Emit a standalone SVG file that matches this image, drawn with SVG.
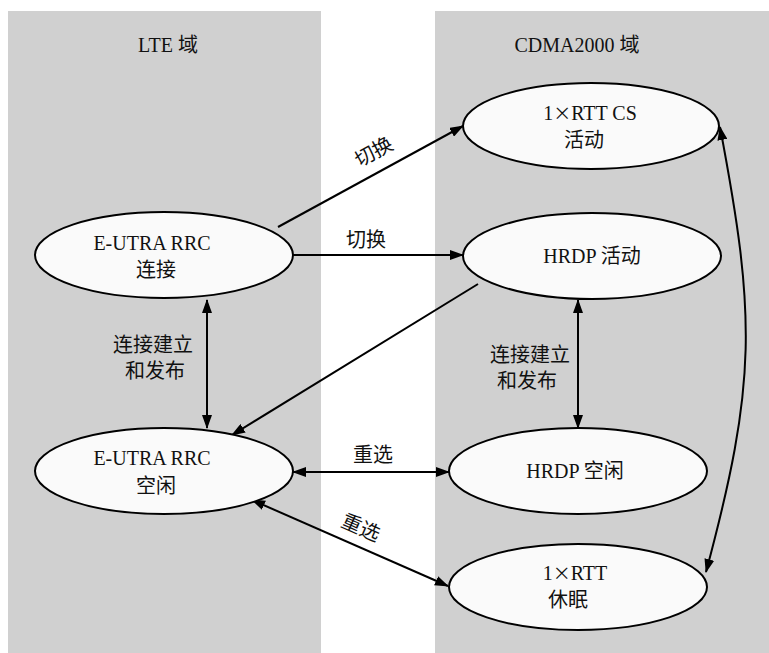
<svg xmlns="http://www.w3.org/2000/svg" width="769" height="653" viewBox="0 0 769 653">
<style>
.panel{fill:#d0d0d0}
.node{fill:#fafafa;stroke:#000;stroke-width:2}
text{font-family:"Liberation Serif","Noto Sans CJK SC",serif;font-size:20px;fill:#111;text-anchor:middle}
.x{font-family:"Noto Sans CJK SC",sans-serif;font-size:18px}
.c{fill:none;stroke:#000;stroke-width:2}
</style>
<defs>
<marker id="ah" viewBox="0 0 14 10" refX="13" refY="5" markerWidth="14" markerHeight="10" markerUnits="userSpaceOnUse" orient="auto-start-reverse">
<path d="M0,0 L14,5 L0,10 Z" fill="#000"/>
</marker>
</defs>
<rect class="panel" x="8" y="11" width="313" height="642"/>
<rect class="panel" x="435" y="11" width="334" height="642"/>
<text x="168" y="52">LTE 域</text>
<text x="577" y="52">CDMA2000 域</text>
<g id="connectors">
<line class="c" x1="278" y1="227" x2="463" y2="126" marker-end="url(#ah)"/>
<line class="c" x1="293" y1="255" x2="463" y2="255" marker-end="url(#ah)"/>
<line class="c" x1="478" y1="284" x2="232" y2="435" marker-end="url(#ah)"/>
<line class="c" x1="207" y1="300" x2="207" y2="428" marker-start="url(#ah)" marker-end="url(#ah)"/>
<line class="c" x1="578" y1="300" x2="578" y2="428" marker-start="url(#ah)" marker-end="url(#ah)"/>
<line class="c" x1="293" y1="472" x2="449" y2="472" marker-start="url(#ah)" marker-end="url(#ah)"/>
<line class="c" x1="252" y1="500" x2="448" y2="586" marker-start="url(#ah)" marker-end="url(#ah)"/>
<path class="c" d="M720,127 C756,317 757,382 706,572" marker-start="url(#ah)" marker-end="url(#ah)"/>
<text transform="translate(377,158) rotate(-28.6)">切换</text>
<text x="366" y="247">切换</text>
<text x="153" y="352">连接建立</text>
<text x="155" y="378">和发布</text>
<text x="530" y="362">连接建立</text>
<text x="527" y="388">和发布</text>
<text x="373" y="462">重选</text>
<text transform="translate(358,534) rotate(23.7)">重选</text>
</g>
<g id="lte-connected">
<ellipse class="node" cx="164" cy="255" rx="129" ry="43"/>
<text x="152" y="250">E-UTRA RRC</text>
<text x="156" y="277">连接</text>
</g>
<g id="lte-idle">
<ellipse class="node" cx="164" cy="471" rx="129" ry="43"/>
<text x="152" y="465">E-UTRA RRC</text>
<text x="156" y="493">空闲</text>
</g>
<g id="rtt-cs-active">
<ellipse class="node" cx="591" cy="126" rx="128" ry="43"/>
<text x="590" y="120">1<tspan class="x">×</tspan>RTT CS</text>
<text x="584" y="147">活动</text>
</g>
<g id="hrdp-active">
<ellipse class="node" cx="592" cy="256" rx="129" ry="43"/>
<text x="592" y="263">HRDP 活动</text>
</g>
<g id="hrdp-idle">
<ellipse class="node" cx="578" cy="471" rx="129" ry="43"/>
<text x="575" y="478">HRDP 空闲</text>
</g>
<g id="rtt-dormant">
<ellipse class="node" cx="578" cy="587" rx="129" ry="43"/>
<text x="575" y="580">1<tspan class="x">×</tspan>RTT</text>
<text x="568" y="607">休眠</text>
</g>
</svg>
